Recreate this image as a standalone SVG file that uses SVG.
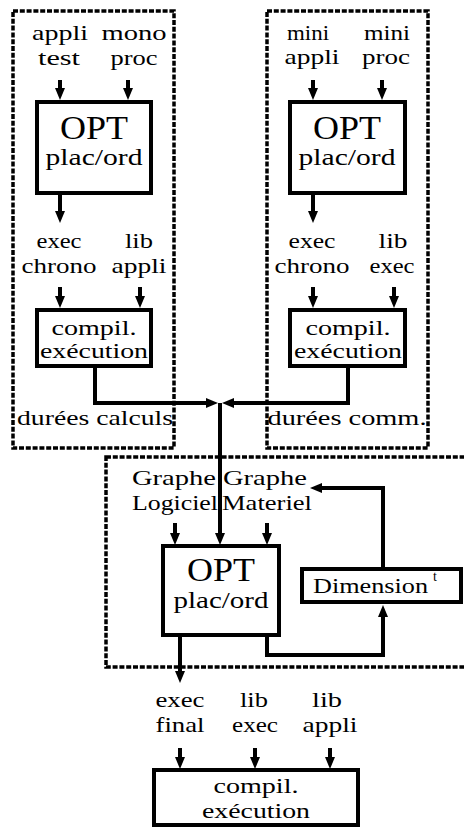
<svg xmlns="http://www.w3.org/2000/svg" width="464" height="829" viewBox="0 0 464 829">
<style>
text{font-family:"Liberation Serif","Times New Roman","DejaVu Serif",serif;text-anchor:middle;fill:#000}
.t{font-size:22px}
.big{font-size:33px}
.mid{font-size:24px}
.sup{font-size:14px;text-anchor:start}
.box{fill:#fff;stroke:#000;stroke-width:4}
.dot{fill:none;stroke:#000;stroke-width:3.5;stroke-dasharray:5 1.8}
.a{fill:none;stroke:#000;stroke-width:4;marker-end:url(#ah)}
</style>
<defs>
<marker id="ah" markerUnits="userSpaceOnUse" viewBox="0 0 12 10" markerWidth="12" markerHeight="10" refX="6" refY="5" orient="auto">
<path d="M0,0 L12,5 L0,10 z" fill="#000"/>
</marker>
</defs>
<rect width="464" height="829" fill="#fff"/>

<g id="frames">
<rect class="dot" x="13" y="11" width="161" height="437"/>
<rect class="dot" x="267" y="11" width="161" height="437"/>
<rect class="dot" x="106" y="457" width="370" height="210"/>
</g>

<g id="connectors">
<path class="a" d="M60 80 V94"/>
<path class="a" d="M128 80 V94"/>
<path class="a" d="M60 195 V217"/>
<path class="a" d="M60 287 V302"/>
<path class="a" d="M140 287 V302"/>
<path class="a" d="M313 80 V94"/>
<path class="a" d="M382 80 V94"/>
<path class="a" d="M313 195 V217"/>
<path class="a" d="M313 287 V302"/>
<path class="a" d="M394 287 V302"/>
<path class="a" d="M95 368 V403 H212"/>
<path class="a" d="M348 368 V403 H228"/>
<path class="a" d="M220 403 V539"/>
<path class="a" d="M175 523 V539"/>
<path class="a" d="M267 523 V539"/>
<path class="a" d="M180 637 V677"/>
<path class="a" d="M267 637 V655 H383 V611"/>
<path class="a" d="M383 567 V488 H316"/>
<path class="a" d="M180 748 V763"/>
<path class="a" d="M255 748 V763"/>
<path class="a" d="M330 748 V763"/>
</g>

<g id="labels-top-left">
<text class="t" x="60" y="40" textLength="56" lengthAdjust="spacingAndGlyphs">appli</text>
<text class="t" x="59" y="65" textLength="42" lengthAdjust="spacingAndGlyphs">test</text>
<text class="t" x="134" y="40" textLength="65" lengthAdjust="spacingAndGlyphs">mono</text>
<text class="t" x="134" y="65" textLength="47" lengthAdjust="spacingAndGlyphs">proc</text>
</g>

<g id="opt1">
<rect class="box" x="37" y="102" width="114" height="91"/>
<text class="big" x="94" y="139" textLength="68" lengthAdjust="spacingAndGlyphs">OPT</text>
<text class="mid" x="94" y="165" textLength="97" lengthAdjust="spacingAndGlyphs">plac/ord</text>
</g>

<g id="labels-mid-left">
<text class="t" x="59" y="248" textLength="45" lengthAdjust="spacingAndGlyphs">exec</text>
<text class="t" x="59" y="273" textLength="75" lengthAdjust="spacingAndGlyphs">chrono</text>
<text class="t" x="139" y="248" textLength="28" lengthAdjust="spacingAndGlyphs">lib</text>
<text class="t" x="139" y="273" textLength="55" lengthAdjust="spacingAndGlyphs">appli</text>
</g>

<g id="compil1">
<rect class="box" x="37" y="310" width="114" height="56"/>
<text class="t" x="94" y="335" textLength="85" lengthAdjust="spacingAndGlyphs">compil.</text>
<text class="t" x="94" y="358" textLength="108" lengthAdjust="spacingAndGlyphs">exécution</text>
</g>

<g id="durees-calculs">
<text class="t" x="95" y="425" textLength="156" lengthAdjust="spacingAndGlyphs">durées calculs</text>
</g>

<g id="labels-top-right">
<text class="t" x="308" y="40" textLength="42" lengthAdjust="spacingAndGlyphs">mini</text>
<text class="t" x="312" y="64" textLength="55" lengthAdjust="spacingAndGlyphs">appli</text>
<text class="t" x="387" y="40" textLength="46" lengthAdjust="spacingAndGlyphs">mini</text>
<text class="t" x="386" y="64" textLength="48" lengthAdjust="spacingAndGlyphs">proc</text>
</g>

<g id="opt2">
<rect class="box" x="290" y="102" width="115" height="91"/>
<text class="big" x="347" y="139" textLength="68" lengthAdjust="spacingAndGlyphs">OPT</text>
<text class="mid" x="347" y="165" textLength="97" lengthAdjust="spacingAndGlyphs">plac/ord</text>
</g>

<g id="labels-mid-right">
<text class="t" x="312" y="248" textLength="47" lengthAdjust="spacingAndGlyphs">exec</text>
<text class="t" x="312" y="273" textLength="75" lengthAdjust="spacingAndGlyphs">chrono</text>
<text class="t" x="393" y="248" textLength="29" lengthAdjust="spacingAndGlyphs">lib</text>
<text class="t" x="392" y="273" textLength="45" lengthAdjust="spacingAndGlyphs">exec</text>
</g>

<g id="compil2">
<rect class="box" x="290" y="310" width="115" height="56"/>
<text class="t" x="348" y="335" textLength="85" lengthAdjust="spacingAndGlyphs">compil.</text>
<text class="t" x="348" y="358" textLength="108" lengthAdjust="spacingAndGlyphs">exécution</text>
</g>

<g id="durees-comm">
<text class="t" x="347" y="425" textLength="159" lengthAdjust="spacingAndGlyphs">durées comm.</text>
</g>

<g id="labels-graphe">
<text class="t" x="174" y="485" textLength="84" lengthAdjust="spacingAndGlyphs">Graphe</text>
<text class="t" x="175" y="510" textLength="86" lengthAdjust="spacingAndGlyphs">Logiciel</text>
<text class="t" x="265" y="485" textLength="84" lengthAdjust="spacingAndGlyphs">Graphe</text>
<text class="t" x="267" y="510" textLength="90" lengthAdjust="spacingAndGlyphs">Materiel</text>
</g>

<g id="opt3">
<rect class="box" x="163" y="546" width="116" height="89"/>
<text class="big" x="221" y="581" textLength="68" lengthAdjust="spacingAndGlyphs">OPT</text>
<text class="mid" x="221" y="608" textLength="95" lengthAdjust="spacingAndGlyphs">plac/ord</text>
</g>

<g id="dimension">
<rect class="box" x="302" y="569" width="159" height="33"/>
<text class="t" x="370.5" y="593" textLength="115" lengthAdjust="spacingAndGlyphs">Dimension</text>
<text class="sup" x="433" y="581">t</text>
</g>

<g id="labels-bottom">
<text class="t" x="180" y="707" textLength="49" lengthAdjust="spacingAndGlyphs">exec</text>
<text class="t" x="180" y="732" textLength="49" lengthAdjust="spacingAndGlyphs">final</text>
<text class="t" x="254" y="707" textLength="28" lengthAdjust="spacingAndGlyphs">lib</text>
<text class="t" x="255" y="732" textLength="46" lengthAdjust="spacingAndGlyphs">exec</text>
<text class="t" x="327" y="707" textLength="30" lengthAdjust="spacingAndGlyphs">lib</text>
<text class="t" x="330" y="732" textLength="55" lengthAdjust="spacingAndGlyphs">appli</text>
</g>

<g id="compil3">
<rect class="box" x="154" y="770" width="204" height="55"/>
<text class="t" x="256" y="793" textLength="85" lengthAdjust="spacingAndGlyphs">compil.</text>
<text class="t" x="256" y="818" textLength="108" lengthAdjust="spacingAndGlyphs">exécution</text>
</g>
</svg>
